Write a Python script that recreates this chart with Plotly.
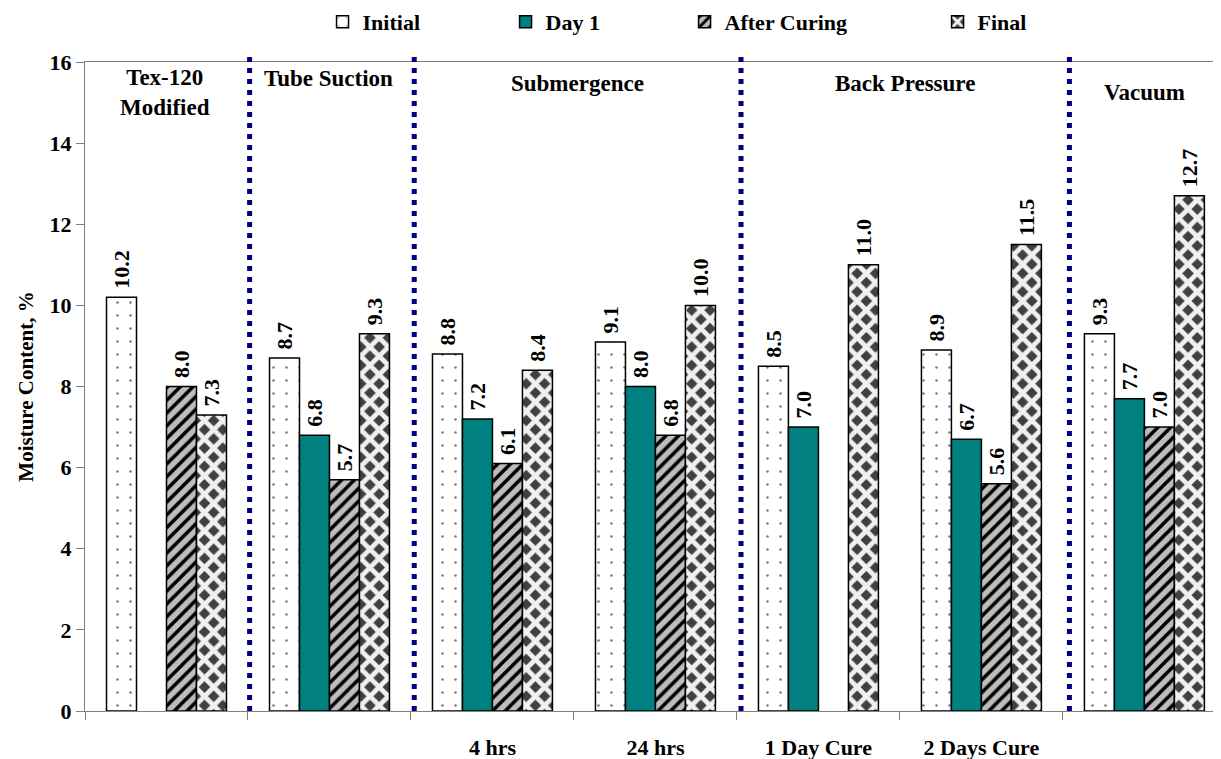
import plotly.graph_objects as go

categories = ["Tex-120 Modified", "Tube Suction", "4 hrs", "24 hrs",
              "1 Day Cure", "2 Days Cure", "Vacuum"]
tick_labels = ["", "", "4 hrs", "24 hrs", "1 Day Cure", "2 Days Cure", ""]

initial = [10.2, 8.7, 8.8, 9.1, 8.5, 8.9, 9.3]
day1 = [None, 6.8, 7.2, 8.0, 7.0, 6.7, 7.7]
after_curing = [8.0, 5.7, 6.1, 6.8, None, 5.6, 7.0]
final = [7.3, 9.3, 8.4, 10.0, 11.0, 11.5, 12.7]

series_names = ["Initial", "Day 1", "After Curing", "Final"]

group_labels = ["Tex-120<br>Modified", "Tube Suction", "Submergence", "Back Pressure", "Vacuum"]
group_label_x = [-0.01, 0.997, 2.52, 4.53, 6.0]
group_label_y = [15.24, 15.6, 15.48, 15.48, 15.24]
separators = [0.51, 1.52, 3.525, 5.54]

FONT = "Liberation Serif"

def tfont(size=22):
    return dict(family=FONT, size=size, color="black", weight="bold")

styles = [
    dict(color="white", pattern=dict(shape=".", fgcolor="#7a7a7a", bgcolor="white",
                                     size=13, solidity=0.03, fillmode="replace")),
    dict(color="#008080"),
    dict(color="#bdbdbd", pattern=dict(shape="/", fgcolor="black", bgcolor="#bdbdbd",
                                       size=9, solidity=0.4, fillmode="replace")),
    dict(color="#404040", pattern=dict(shape="x", fgcolor="#f0f0f0", bgcolor="#404040",
                                       size=13, solidity=0.6, fillmode="replace")),
]

fig = go.Figure()
legend_ids = ["legend2", "legend3", "legend4", "legend5"]
for name, vals, st, lg in zip(series_names, [initial, day1, after_curing, final], styles, legend_ids):
    marker = dict(line=dict(color="black", width=1.5), **st)
    fig.add_trace(go.Bar(
        x=categories, y=vals, name=name, marker=marker,
        texttemplate="\u00a0%{y:.1f}", textposition="outside", textangle=-90,
        textfont=tfont(22), constraintext="none", cliponaxis=False,
        legend=lg, showlegend=True,
    ))

shapes = []
for sx in separators:
    shapes.append(dict(type="line", xref="x", yref="paper", x0=sx, x1=sx, y0=0, y1=1.011,
                       line=dict(color="#000080", width=5, dash="5px,6px")))

annotations = []
for txt, gx, gy in zip(group_labels, group_label_x, group_label_y):
    annotations.append(dict(text=txt, x=gx, y=gy, xref="x", yref="y", showarrow=False,
                            font=tfont(23), align="center"))

legend_x = [0.2091, 0.3702, 0.5278, 0.7505]
leg_common = dict(orientation="h", yanchor="middle", y=1 - 14 / 751, yref="container",
                  xanchor="left", font=tfont(22), bgcolor="rgba(0,0,0,0)")
layout_legends = {}
for lg, lx in zip(legend_ids, legend_x):
    layout_legends[lg] = dict(x=lx, **leg_common)

fig.update_layout(
    width=1213, height=751,
    margin=dict(l=77, r=0, t=54, b=48, autoexpand=False),
    plot_bgcolor="white", paper_bgcolor="white",
    barmode="group", bargap=0.264, bargroupgap=0,
    shapes=shapes, annotations=annotations,
    **layout_legends,
)
fig.update_xaxes(
    type="category", range=[-0.5, 6.47], tickson="boundaries",
    tickmode="array", tickvals=categories, ticktext=tick_labels,
    ticks="outside", ticklen=8, tickcolor="#808080", tickwidth=1,
    showline=True, linecolor="#808080", linewidth=1, mirror=True, showgrid=False,
    tickfont=tfont(22), ticklabelstandoff=17, automargin=False,
)
fig.update_yaxes(
    range=[0, 16], dtick=2, ticks="outside", ticklen=8, tickcolor="#808080",
    showline=True, linecolor="#808080", linewidth=1, showgrid=False, zeroline=False,
    tickfont=tfont(22), automargin=False,
    title=dict(text="Moisture Content, %", font=tfont(21), standoff=10),
)
fig.write_html("out.html")
